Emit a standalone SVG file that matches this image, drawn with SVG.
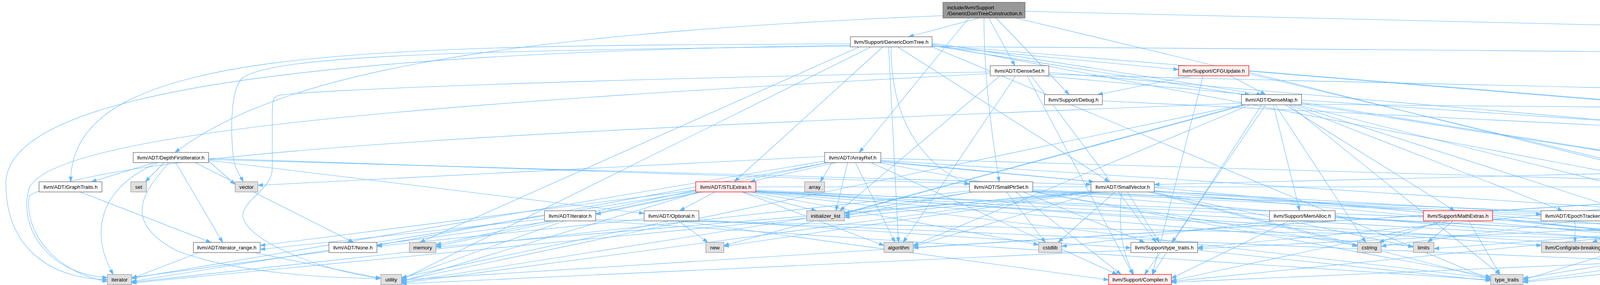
<svg xmlns="http://www.w3.org/2000/svg" width="6402" height="729" viewBox="0 0 6402 729">
<style>
.e path{fill:none;stroke:#63B8FF;stroke-width:1.1;marker-end:url(#arr)}
rect{stroke-width:1.3}
.n rect{fill:#FFFFFF;stroke:#666666}
.g rect{fill:#E0E0E0;stroke:#999999}
.r rect{fill:#FFF0F0;stroke:#FF0000}
.m rect{fill:#999999;stroke:#666666}
text{font-family:"Liberation Sans",Arial,Helvetica,sans-serif;font-size:13.33px;fill:#000000;text-anchor:middle}
text.l{text-anchor:start}
</style>
<defs>
<marker id="arr" markerWidth="14" markerHeight="10" refX="13" refY="4.5" orient="auto" markerUnits="userSpaceOnUse"><path d="M0,0L13,4.5L0,9z" fill="#63B8FF" stroke="#63B8FF" stroke-width="1"/></marker>
</defs>
<rect width="6402" height="729" fill="#FFFFFF"/>
<g class="e" id="connectors">
<path d="M2507,46L2326,94"/>
<path d="M2624,29L5927,107"/>
<path d="M2531,46L2598,168"/>
<path d="M2519,46C2519,200 2540,350 2558,465"/>
<path d="M2550,46L2737,242"/>
<path d="M2414,40C1200,90 700,200 448,390"/>
<path d="M2480,46L2200,390"/>
<path d="M2600,46L4660,539"/>
<path d="M2386,110L3230,242"/>
<path d="M2177,112C900,118 181,120 181,465"/>
<path d="M2386,113L4640,539"/>
<path d="M2260,120L1880,465"/>
<path d="M2281,120C2281,350 2400,440 2482,472"/>
<path d="M2298,120L2840,465"/>
<path d="M2386,118L3017,178"/>
<path d="M2386,115L5770,390"/>
<path d="M2275,120L2300,620"/>
<path d="M2386,119C4500,135 6396,130 6396,300L6396,560C6396,650 5600,705 5466,712"/>
<path d="M2386,117L5590,620"/>
<path d="M2177,116C700,135 15,250 15,470C15,650 150,715 275,715"/>
<path d="M2200,120L1075,620"/>
<path d="M2386,120L3816,715"/>
<path d="M2230,120L1028,715"/>
<path d="M2177,118C1200,130 700,140 620,200C590,230 590,330 597,400C600,430 615,450 623,465"/>
<path d="M2670,194L3200,242"/>
<path d="M2685,185L4303,324"/>
<path d="M2630,194L2900,702"/>
<path d="M2640,194L2960,620"/>
<path d="M2600,194L2312,620"/>
<path d="M2685,190C4000,230 6245,240 6245,400C6245,520 5700,600 5637,628"/>
<path d="M2560,194L2150,539"/>
<path d="M2535,188C1200,260 150,330 75,480C45,580 120,700 275,710"/>
<path d="M2535,184C1600,200 760,230 710,245C697,250 697,270 697,300L697,430C697,480 640,500 624,540C600,600 800,690 975,712"/>
<path d="M3150,194L3240,242"/>
<path d="M3197,185L4620,539"/>
<path d="M3080,194L2950,702"/>
<path d="M3050,194L2810,242"/>
<path d="M3197,182L5740,390"/>
<path d="M2822,258L5724,400"/>
<path d="M3332,256L4303,322"/>
<path d="M3300,268L4000,539"/>
<path d="M3320,268L4400,539"/>
<path d="M3230,268L2950,702"/>
<path d="M3290,268L3724,539"/>
<path d="M3260,268L3327,539"/>
<path d="M3310,268L4160,539"/>
<path d="M3240,268L3000,620"/>
<path d="M3200,268L2338,628"/>
<path d="M3332,266C5000,290 6346,250 6346,420C6346,560 6000,680 5466,718"/>
<path d="M3332,262L5580,620"/>
<path d="M3265,268L3496,620"/>
<path d="M3190,268L2162,546"/>
<path d="M3178,264C1500,330 300,380 75,500C60,600 150,700 275,720"/>
<path d="M3185,268L1853,628"/>
<path d="M3300,268L3840,702"/>
<path d="M3180,268L1028,718"/>
<path d="M4404,343C4500,420 4560,520 4507,620"/>
<path d="M4452,343C4550,360 4620,420 4652,465"/>
<path d="M4480,331C5200,335 5687,350 5687,450C5687,540 5640,590 5622,620"/>
<path d="M395,416L234,465"/>
<path d="M420,416L372,465"/>
<path d="M500,416L905,620"/>
<path d="M534,410L1649,546"/>
<path d="M534,405L2482,470"/>
<path d="M534,408L2793,472"/>
<path d="M450,416L570,620"/>
<path d="M405,416C250,480 230,600 290,702"/>
<path d="M432,416C380,480 300,560 450,640C600,700 850,712 975,712"/>
<path d="M534,412L602,472"/>
<path d="M2255,405L4596,472"/>
<path d="M2120,416L965,628"/>
<path d="M2255,412L2800,465"/>
<path d="M2140,416L1920,465"/>
<path d="M2230,416L2860,702"/>
<path d="M2190,416L2291,620"/>
<path d="M2130,416L2100,465"/>
<path d="M2255,414L5401,708"/>
<path d="M2255,410L5572,625"/>
<path d="M2170,416L2140,539"/>
<path d="M2111,412L337,712"/>
<path d="M2120,416L1116,626"/>
<path d="M2250,416L3816,708"/>
<path d="M2111,400L660,474"/>
<path d="M5883,416C6000,450 6120,560 6185,702"/>
<path d="M5810,416C5790,500 5700,650 5466,712"/>
<path d="M5806,416C5760,500 5700,580 5630,620"/>
<path d="M5724,405L2955,472"/>
<path d="M5740,416L3899,712"/>
<path d="M205,491L540,620"/>
<path d="M1830,491L1740,539"/>
<path d="M1800,491L1525,548"/>
<path d="M1781,486L666,628"/>
<path d="M1935,488L3946,628"/>
<path d="M1935,486L4893,628"/>
<path d="M1935,478L4596,478"/>
<path d="M1900,491L2263,628"/>
<path d="M1935,490L5401,710"/>
<path d="M1935,489L5572,630"/>
<path d="M1935,489L4466,628"/>
<path d="M1920,491L2659,626"/>
<path d="M1900,491L2090,539"/>
<path d="M1781,490L337,720"/>
<path d="M1935,491L3618,630"/>
<path d="M1790,491L1116,630"/>
<path d="M1930,491L3816,712"/>
<path d="M1790,491L1028,720"/>
<path d="M2644,485L3945,548"/>
<path d="M2600,491L2870,702"/>
<path d="M2644,488L4140,548"/>
<path d="M2620,491L2930,620"/>
<path d="M2644,490L5401,714"/>
<path d="M2644,489L5572,632"/>
<path d="M2577,491L2676,620"/>
<path d="M2644,491L3475,628"/>
<path d="M2490,491L2162,552"/>
<path d="M2482,488L337,722"/>
<path d="M2490,491L1028,722"/>
<path d="M2871,491C2860,600 2880,660 2902,702"/>
<path d="M2955,488L4893,630"/>
<path d="M2886,491L2968,620"/>
<path d="M2810,491L2338,630"/>
<path d="M2955,490L5401,716"/>
<path d="M2955,489L5572,634"/>
<path d="M2854,491L2709,620"/>
<path d="M2940,491L3475,630"/>
<path d="M2800,491L2162,556"/>
<path d="M2793,488L337,724"/>
<path d="M2950,491L3618,632"/>
<path d="M2800,491L1116,632"/>
<path d="M2800,491L1853,630"/>
<path d="M2950,491L3816,714"/>
<path d="M2793,490L1028,724"/>
<path d="M4700,491L4960,620"/>
<path d="M4720,491L5050,539"/>
<path d="M4596,488L3066,633"/>
<path d="M4690,491L4960,702"/>
<path d="M4596,490L2338,634"/>
<path d="M4736,490L5420,702"/>
<path d="M4600,491L3536,630"/>
<path d="M4736,486L6167,712"/>
<path d="M4596,491L1028,716"/>
<path d="M1394,560L666,638"/>
<path d="M1525,562L5572,636"/>
<path d="M1420,565L337,710"/>
<path d="M1525,565L3816,716"/>
<path d="M1445,565L1028,712"/>
<path d="M1649,560L965,630"/>
<path d="M1740,565L2838,716"/>
<path d="M1789,562L2895,634"/>
<path d="M1789,565L5401,718"/>
<path d="M1736,565L1812,620"/>
<path d="M1713,565L1028,710"/>
<path d="M3300,565L2999,712"/>
<path d="M3418,555L4893,633"/>
<path d="M3260,565L2718,630"/>
<path d="M3710,565L2999,718"/>
<path d="M3690,565L3530,620"/>
<path d="M3720,565L3655,620"/>
<path d="M3760,565L3840,702"/>
<path d="M3821,560L5401,720"/>
<path d="M3821,556L4466,628"/>
<path d="M4032,565L4032,620"/>
<path d="M4100,565L4466,632"/>
<path d="M4210,565L4076,620"/>
<path d="M4300,565L4601,625"/>
<path d="M4400,565L3899,716"/>
<path d="M4682,565L4682,613"/>
<path d="M4597,560L2999,720"/>
<path d="M4600,562L3066,636"/>
<path d="M4767,560L5401,722"/>
<path d="M4655,565L4527,628"/>
<path d="M4610,565L3671,636"/>
<path d="M5097,565C5110,640 5040,690 5020,702"/>
<path d="M5150,565L5580,620"/>
<path d="M5000,565L4527,634"/>
<path d="M5000,565L3899,720"/>
<path d="M650,646L975,712"/>
<path d="M510,646L337,712"/>
<path d="M2971,646L2930,702"/>
<path d="M3066,640L3816,718"/>
<path d="M2895,640L1028,726"/>
<path d="M4700,653L4950,702"/>
<path d="M4765,645L5401,708"/>
<path d="M4601,650L3899,722"/>
<path d="M4893,640L2999,722"/>
</g>
<g id="node1" class="m"><rect x="2414" y="6" width="210" height="40"/><text class="l" x="2425" y="23.5">include/llvm/Support</text><text class="l" x="2425" y="38.5">/GenericDomTreeConstruction.h</text></g>
<g id="node2" class="n"><rect x="2177" y="94" width="209" height="26"/><text x="2281.5" y="111.7">llvm/Support/GenericDomTree.h</text></g>
<g id="node3" class="g"><rect x="5927" y="94" width="57" height="26"/><text x="5955.5" y="111.7">queue</text></g>
<g id="node4" class="n"><rect x="2535" y="168" width="150" height="26"/><text x="2610" y="185.7">llvm/ADT/DenseSet.h</text></g>
<g id="node5" class="r"><rect x="3017" y="168" width="180" height="26"/><text x="3107" y="185.7">llvm/Support/CFGUpdate.h</text></g>
<g id="node6" class="n"><rect x="2674" y="242" width="148" height="26"/><text x="2748" y="259.7">llvm/Support/Debug.h</text></g>
<g id="node7" class="n"><rect x="3178" y="242" width="154" height="26"/><text x="3255" y="259.7">llvm/ADT/DenseMap.h</text></g>
<g id="node8" class="r"><rect x="4303" y="317" width="177" height="26"/><text x="4391.5" y="334.7">llvm/ADT/DenseMapInfo.h</text></g>
<g id="node9" class="n"><rect x="341" y="390" width="193" height="26"/><text x="437.5" y="407.7">llvm/ADT/DepthFirstIterator.h</text></g>
<g id="node10" class="n"><rect x="2111" y="390" width="144" height="26"/><text x="2183" y="407.7">llvm/ADT/ArrayRef.h</text></g>
<g id="node11" class="r"><rect x="5724" y="390" width="185" height="26"/><text x="5816.5" y="407.7">llvm/Support/raw_ostream.h</text></g>
<g id="node12" class="n"><rect x="100" y="465" width="161" height="26"/><text x="180.5" y="482.7">llvm/ADT/GraphTraits.h</text></g>
<g id="node13" class="g"><rect x="335" y="465" width="40" height="26"/><text x="355" y="482.7">set</text></g>
<g id="node14" class="g"><rect x="602" y="465" width="58" height="26"/><text x="631" y="482.7">vector</text></g>
<g id="node15" class="r"><rect x="1781" y="465" width="154" height="26"/><text x="1858" y="482.7">llvm/ADT/STLExtras.h</text></g>
<g id="node16" class="g"><rect x="2060" y="465" width="51" height="26"/><text x="2085.5" y="482.7">array</text></g>
<g id="node17" class="n"><rect x="2482" y="465" width="162" height="26"/><text x="2563" y="482.7">llvm/ADT/SmallPtrSet.h</text></g>
<g id="node18" class="n"><rect x="2793" y="465" width="162" height="26"/><text x="2874" y="482.7">llvm/ADT/SmallVector.h</text></g>
<g id="node19" class="n"><rect x="4596" y="465" width="140" height="26"/><text x="4666" y="482.7">llvm/ADT/Hashing.h</text></g>
<g id="node20" class="n"><rect x="1394" y="539" width="131" height="26"/><text x="1459.5" y="556.7">llvm/ADT/iterator.h</text></g>
<g id="node21" class="n"><rect x="1649" y="539" width="140" height="26"/><text x="1719" y="556.7">llvm/ADT/Optional.h</text></g>
<g id="node22" class="g"><rect x="2065" y="539" width="97" height="26"/><text x="2113.5" y="556.7">initializer_list</text></g>
<g id="node23" class="n"><rect x="3250" y="539" width="168" height="26"/><text x="3334" y="556.7">llvm/Support/MemAlloc.h</text></g>
<g id="node24" class="r"><rect x="3644" y="539" width="177" height="26"/><text x="3732.5" y="556.7">llvm/Support/MathExtras.h</text></g>
<g id="node25" class="n"><rect x="3945" y="539" width="172" height="26"/><text x="4031" y="556.7">llvm/ADT/EpochTracker.h</text></g>
<g id="node26" class="n"><rect x="4140" y="539" width="206" height="26"/><text x="4243" y="556.7">llvm/Support/ReverseIteration.h</text></g>
<g id="node27" class="n"><rect x="4369" y="539" width="153" height="26"/><text x="4445.5" y="556.7">llvm/Support/AlignOf.h</text></g>
<g id="node28" class="n"><rect x="4597" y="539" width="170" height="26"/><text x="4682" y="556.7">llvm/ADT/PointerIntPair.h</text></g>
<g id="node29" class="r"><rect x="4993" y="539" width="201" height="26"/><text x="5093.5" y="556.7">llvm/Support/SwapByteOrder.h</text></g>
<g id="node30" class="n"><rect x="495" y="620" width="171" height="26"/><text x="580.5" y="637.7">llvm/ADT/iterator_range.h</text></g>
<g id="node31" class="n"><rect x="842" y="620" width="123" height="26"/><text x="903.5" y="637.7">llvm/ADT/None.h</text></g>
<g id="node32" class="g"><rect x="1048" y="620" width="68" height="26"/><text x="1082" y="637.7">memory</text></g>
<g id="node33" class="g"><rect x="1807" y="620" width="46" height="26"/><text x="1830" y="637.7">new</text></g>
<g id="node34" class="g"><rect x="2263" y="620" width="75" height="26"/><text x="2300.5" y="637.7">algorithm</text></g>
<g id="node35" class="g"><rect x="2659" y="620" width="59" height="26"/><text x="2688.5" y="637.7">cstdlib</text></g>
<g id="node36" class="n"><rect x="2895" y="620" width="171" height="26"/><text x="2980.5" y="637.7">llvm/Support/type_traits.h</text></g>
<g id="node37" class="g"><rect x="3475" y="620" width="61" height="26"/><text x="3505.5" y="637.7">cstring</text></g>
<g id="node38" class="g"><rect x="3618" y="620" width="53" height="26"/><text x="3644.5" y="637.7">limits</text></g>
<g id="node39" class="g"><rect x="3946" y="620" width="173" height="26"/><text x="4032.5" y="637.7">llvm/Config/abi-breaking.h</text></g>
<g id="node40" class="g"><rect x="4466" y="620" width="61" height="26"/><text x="4496.5" y="637.7">cstdint</text></g>
<g id="node41" class="n"><rect x="4601" y="613" width="164" height="40"/><text x="4683" y="630.5">llvm/Support/PointerLike</text><text x="4683" y="645.5">TypeTraits.h</text></g>
<g id="node42" class="n"><rect x="4893" y="620" width="188" height="26"/><text x="4987" y="637.7">llvm/Support/ErrorHandling.h</text></g>
<g id="node43" class="g"><rect x="5572" y="620" width="65" height="26"/><text x="5604.5" y="637.7">cstddef</text></g>
<g id="node44" class="g"><rect x="275" y="702" width="62" height="26"/><text x="306" y="719.7">iterator</text></g>
<g id="node45" class="g"><rect x="975" y="702" width="53" height="26"/><text x="1001.5" y="719.7">utility</text></g>
<g id="node46" class="r"><rect x="2838" y="702" width="161" height="26"/><text x="2918.5" y="719.7">llvm/Support/Compiler.h</text></g>
<g id="node47" class="g"><rect x="3816" y="702" width="83" height="26"/><text x="3857.5" y="719.7">type_traits</text></g>
<g id="node48" class="r"><rect x="4901" y="702" width="172" height="26"/><text x="4987" y="719.7">llvm/Support/DataTypes.h</text></g>
<g id="node49" class="g"><rect x="5401" y="702" width="65" height="26"/><text x="5433.5" y="719.7">cassert</text></g>
<g id="node50" class="g"><rect x="6167" y="702" width="53" height="26"/><text x="6193.5" y="719.7">string</text></g>
</svg>
